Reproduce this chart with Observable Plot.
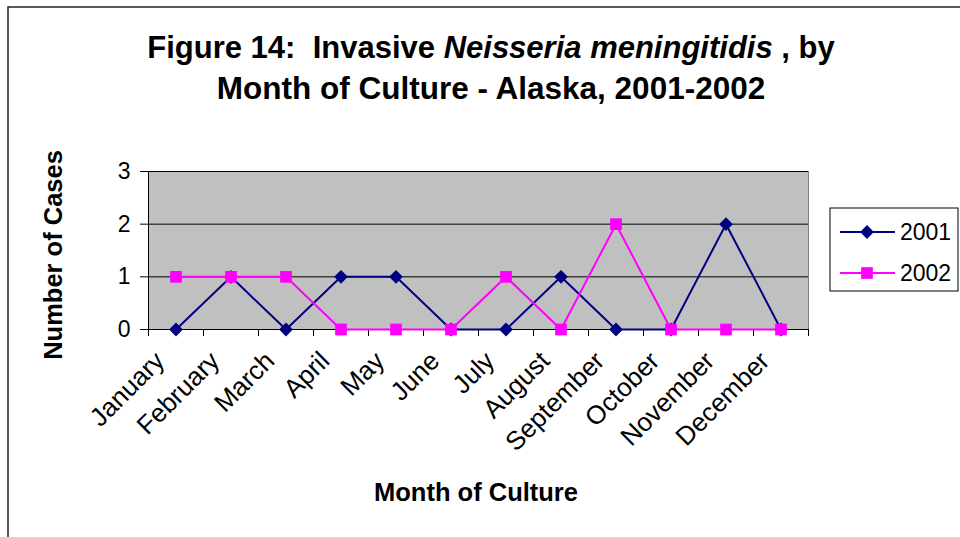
<!DOCTYPE html>
<html>
<head>
<meta charset="utf-8">
<script src="https://cdn.jsdelivr.net/npm/d3@7"></script>
<script src="https://cdn.jsdelivr.net/npm/@observablehq/plot@0.6"></script>
<style>
  html, body { margin: 0; padding: 0; background: white; }
  #chart { width: 960px; height: 537px; overflow: hidden; }
</style>
</head>
<body>
<div id="chart"></div>
<script>
// ---- data ----
const months = ["January","February","March","April","May","June","July","August","September","October","November","December"];
const cases2001 = [0,1,0,1,1,0,0,1,0,0,2,0];
const cases2002 = [1,1,1,0,0,0,1,0,2,0,0,0];
const seriesNames = ["2001","2002"];
const seriesColors = ["#000080","#FF00FF"];
const yTicks = [0,1,2,3];
const titleLine1 = ["Figure 14:  Invasive ", "Neisseria meningitidis", " , by"];
const titleLine2 = "Month of Culture - Alaska, 2001-2002";
const xTitle = "Month of Culture";
const yTitle = "Number of Cases";

const FONT = "'Liberation Sans', Arial, Helvetica, sans-serif";

const rows2001 = months.map((m, i) => ({month: m, pos: i + 0.5, value: cases2001[i]}));
const rows2002 = months.map((m, i) => ({month: m, pos: i + 0.5, value: cases2002[i]}));

const plot = Plot.plot({
  width: 960,
  height: 537,
  marginLeft: 148,
  marginRight: 152,
  marginTop: 171,
  marginBottom: 208,
  style: {fontFamily: FONT, fontSize: "23px", color: "black", background: "white", overflow: "visible"},
  x: {domain: [0, 12]},
  y: {domain: [0, 3]},
  marks: [
    Plot.frame({fill: "#C0C0C0", stroke: "#808080", strokeWidth: 1}),
    Plot.ruleY([1, 2, 3], {stroke: "black", strokeWidth: 1}),
    Plot.ruleX([0], {stroke: "black", strokeWidth: 1}),
    Plot.ruleY([0], {stroke: "black", strokeWidth: 1}),
    Plot.axisY({ticks: yTicks, tickSize: 8, tickPadding: 10, tickFormat: d3.format("d"), label: null, fontSize: 23}),
    Plot.axisX({ticks: d3.range(0, 13), tickSize: 7, tickFormat: () => "", label: null}),
    Plot.text(months, {x: (d, i) => i + 0.5, frameAnchor: "bottom", rotate: -45, textAnchor: "end", dx: -10, dy: 33, fontSize: 26, fill: "black"}),
    Plot.line(rows2001, {x: "pos", y: "value", stroke: seriesColors[0], strokeWidth: 2}),
    Plot.dot(rows2001, {x: "pos", y: "value", symbol: "diamond2", r: 6.2, fill: seriesColors[0], stroke: "none"}),
    Plot.line(rows2002, {x: "pos", y: "value", stroke: seriesColors[1], strokeWidth: 2}),
    Plot.dot(rows2002, {x: "pos", y: "value", symbol: "square", r: 6.6, fill: seriesColors[1], stroke: "none"})
  ]
});

document.getElementById("chart").appendChild(plot);

const svg = d3.select(plot);

// outer chart border
svg.append("rect")
  .attr("x", 8).attr("y", 7).attr("width", 980).attr("height", 560)
  .attr("fill", "none").attr("stroke", "#222").attr("stroke-width", 1.5);

// title
const t1 = svg.append("text")
  .attr("x", 491).attr("y", 58)
  .attr("text-anchor", "middle")
  .attr("font-family", FONT).attr("font-size", 31).attr("font-weight", "bold")
  .style("white-space", "pre").attr("xml:space", "preserve");
t1.append("tspan").text(titleLine1[0]);
t1.append("tspan").attr("font-style", "italic").text(titleLine1[1]);
t1.append("tspan").text(titleLine1[2]);

svg.append("text")
  .attr("x", 491).attr("y", 99)
  .attr("text-anchor", "middle")
  .attr("font-family", FONT).attr("font-size", 31.5).attr("font-weight", "bold")
  .text(titleLine2);

// axis titles
svg.append("text")
  .attr("transform", "translate(62,255) rotate(-90)")
  .attr("text-anchor", "middle")
  .attr("font-family", FONT).attr("font-size", 25.5).attr("font-weight", "bold")
  .text(yTitle);

svg.append("text")
  .attr("x", 476).attr("y", 501)
  .attr("text-anchor", "middle")
  .attr("font-family", FONT).attr("font-size", 25.5).attr("font-weight", "bold")
  .text(xTitle);

// legend
const lg = svg.append("g");
lg.append("rect")
  .attr("x", 830).attr("y", 208).attr("width", 128).attr("height", 83)
  .attr("fill", "white").attr("stroke", "black").attr("stroke-width", 1);
const legendSymbols = [d3.symbolDiamond2, d3.symbolSquare];
const legendSizes = [Math.PI * 6.2 * 6.2, Math.PI * 6.6 * 6.6];
const legendY = [232, 273];
seriesNames.forEach((name, i) => {
  const y = legendY[i];
  lg.append("line").attr("x1", 840).attr("x2", 895).attr("y1", y).attr("y2", y)
    .attr("stroke", seriesColors[i]).attr("stroke-width", 2);
  lg.append("path").attr("d", d3.symbol(legendSymbols[i], legendSizes[i])())
    .attr("transform", `translate(867,${y})`).attr("fill", seriesColors[i]);
  lg.append("text").attr("x", 900).attr("y", y + 8)
    .attr("text-anchor", "start")
    .attr("font-family", FONT).attr("font-size", 23).attr("fill", "black")
    .text(name);
});
</script>
</body>
</html>
